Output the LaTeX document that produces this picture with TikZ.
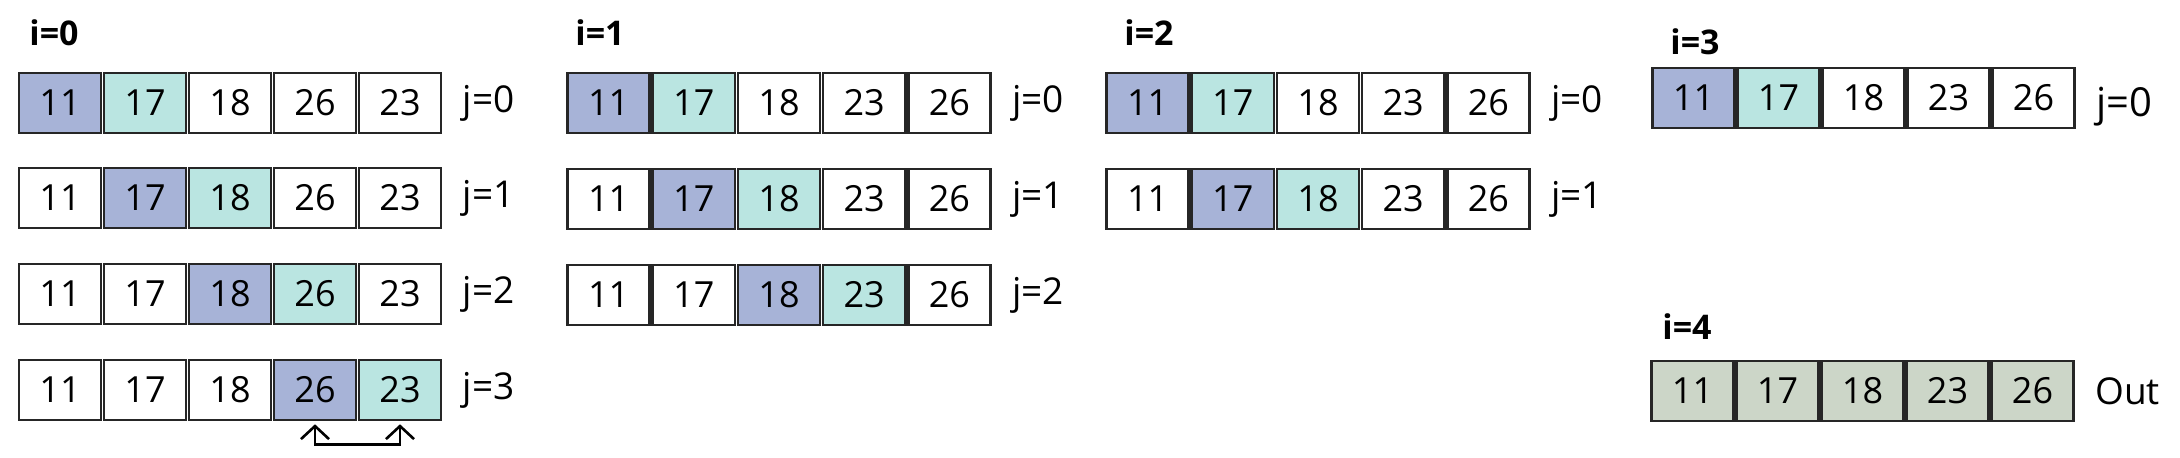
\documentclass[tikz,border=0pt]{standalone}
\usepackage{fontspec}
\setmainfont{Open Sans}
\usetikzlibrary{arrows.meta,positioning}
\definecolor{pivot}{HTML}{A7B3D7}
\definecolor{nextc}{HTML}{BAE5E1}
\definecolor{sorted}{HTML}{CCD6C8}
\definecolor{edge}{HTML}{262626}

\begin{document}
\begin{tikzpicture}[x=0.5pt, y=-0.5pt,
    cell/.style = {draw=edge, line width=1.3pt, minimum height=30pt, inner sep=0pt,
                   font=\fontsize{18}{20}\selectfont},
    jlab/.style = {inner sep=0pt, font=\fontsize{18.5}{21}\selectfont},
    ilab/.style = {anchor=west, inner sep=0pt, font=\bfseries\fontsize{17}{19}\selectfont},
    swap/.style = {line width=1.3pt, {Straight Barb[length=6.5pt,width=14pt]}-{Straight Barb[length=6.5pt,width=14pt]}}]
  \useasboundingbox (0,0) rectangle (2180,458);
  % pass labels
  \node[ilab] (i0) at (29,33) {i=0};
  \node[ilab] (i1) at (575,33) {i=1};
  \node[ilab] (i2) at (1124,33) {i=2};
  \node[ilab] (i3) at (1670,42) {i=3};
  \node[ilab] (i4) at (1662,327) {i=4};
  % rows: name / left / top / cell width / label / label shift / cells
  \foreach \nm/\x/\y/\w/\lab/\dy/\vals in {
      a0-0/17.5/73/85/{j=0}/0/{11/pivot,17/nextc,18/white,26/white,23/white},
      a0-1/17.5/168/85/{j=1}/0/{11/white,17/pivot,18/nextc,26/white,23/white},
      a0-2/17.5/264/85/{j=2}/0/{11/white,17/white,18/pivot,26/nextc,23/white},
      a0-3/17.5/360/85/{j=3}/0/{11/white,17/white,18/white,26/pivot,23/nextc},
      a1-0/566/73/85.2/{j=0}/0/{11/pivot,17/nextc,18/white,23/white,26/white},
      a1-1/566/169/85.2/{j=1}/0/{11/white,17/pivot,18/nextc,23/white,26/white},
      a1-2/566/265/85.2/{j=2}/0/{11/white,17/white,18/pivot,23/nextc,26/white},
      a2-0/1105/73/85.2/{j=0}/0/{11/pivot,17/nextc,18/white,23/white,26/white},
      a2-1/1105/169/85.2/{j=1}/0/{11/white,17/pivot,18/nextc,23/white,26/white},
      a3-0/1651/68/85/{\fontsize{20}{22}\selectfont j=0}/-4.5/{11/pivot,17/nextc,18/white,23/white,26/white},
      a4-0/1650/361/85/{Out}/0/{11/sorted,17/sorted,18/sorted,23/sorted,26/sorted}}
  {
    \foreach \v/\c [count=\k] in \vals
      \node[cell, fill=\c, minimum width=\w*0.5pt-1.5pt] (\nm-\k) at (\x+\w*\k-\w/2, \y+30) {\v};
    \node[jlab, right=10pt of \nm-5, yshift=\dy pt] (\nm-lab) {\lab};
  }
  % last compare of the first pass
  \draw[swap] ([yshift=-1.5pt]a0-3-4.south) -- ++(0,-10pt) -| ([yshift=-1.5pt]a0-3-5.south);
\end{tikzpicture}
\end{document}
